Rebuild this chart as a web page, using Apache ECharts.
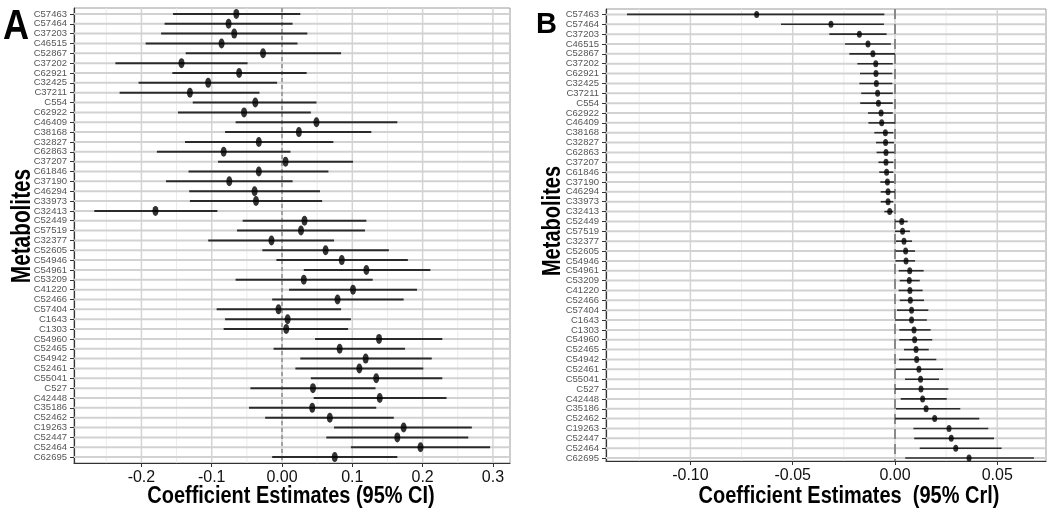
<!DOCTYPE html>
<html><head><meta charset="utf-8">
<script src="https://cdn.jsdelivr.net/npm/echarts@6/dist/echarts.min.js"></script>
<style>html,body{margin:0;padding:0;background:#fff}#c{width:1050px;height:514px}</style>
</head><body><div id="c"></div>
<script>
const metabolites = ['C57463','C57464','C37203','C46515','C52867','C37202','C62921','C32425','C37211','C554','C62922','C46409','C38168','C32827','C62863','C37207','C61846','C37190','C46294','C33973','C32413','C52449','C57519','C32377','C52605','C54946','C54961','C53209','C41220','C52466','C57404','C1643','C1303','C54960','C52465','C54942','C52461','C55041','C527','C42448','C35186','C52462','C19263','C52447','C52464','C62695'];

// Panel A: coefficient estimates with 95% CI
const estA  = [-0.065,-0.076,-0.068,-0.086,-0.027,-0.143,-0.061,-0.105,-0.131,-0.038,-0.054,0.049,0.024,-0.033,-0.083,0.005,-0.033,-0.075,-0.039,-0.037,-0.180,0.032,0.027,-0.015,0.062,0.085,0.120,0.031,0.101,0.079,-0.005,0.008,0.006,0.138,0.082,0.119,0.110,0.134,0.044,0.139,0.043,0.068,0.173,0.164,0.197,0.075];
const lowA  = [-0.155,-0.167,-0.172,-0.194,-0.137,-0.237,-0.156,-0.204,-0.231,-0.127,-0.148,-0.066,-0.081,-0.138,-0.178,-0.091,-0.133,-0.165,-0.132,-0.131,-0.267,-0.056,-0.064,-0.105,-0.028,-0.008,0.031,-0.066,0.010,-0.014,-0.093,-0.081,-0.083,0.047,-0.012,0.026,0.019,0.041,-0.045,0.045,-0.047,-0.024,0.074,0.063,0.098,-0.014];
const highA = [0.026,0.015,0.036,0.022,0.084,-0.049,0.035,-0.007,-0.032,0.049,0.041,0.164,0.127,0.073,0.012,0.101,0.066,0.015,0.054,0.057,-0.092,0.120,0.118,0.074,0.152,0.179,0.211,0.129,0.192,0.173,0.084,0.098,0.094,0.228,0.175,0.213,0.201,0.228,0.133,0.234,0.134,0.159,0.270,0.265,0.296,0.164];

// Panel B: coefficient estimates with 95% CrI
const estB  = [-0.0676,-0.0313,-0.0174,-0.0132,-0.0108,-0.0094,-0.0093,-0.0091,-0.0085,-0.0081,-0.0068,-0.0065,-0.0047,-0.0046,-0.0044,-0.0044,-0.0041,-0.0037,-0.0034,-0.0034,-0.0026,0.0033,0.0037,0.0044,0.0052,0.0054,0.0072,0.0070,0.0073,0.0075,0.0081,0.0081,0.0093,0.0096,0.0103,0.0106,0.0117,0.0125,0.0127,0.0135,0.0152,0.0194,0.0264,0.0275,0.0297,0.0362];
const lowB  = [-0.131,-0.0557,-0.0321,-0.0244,-0.0223,-0.0184,-0.0171,-0.0174,-0.0165,-0.0170,-0.0132,-0.0130,-0.0101,-0.0093,-0.0090,-0.0081,-0.0077,-0.0072,-0.0070,-0.0070,-0.0052,0.0000,0.0000,0.0005,0.0002,0.0002,0.0018,0.0023,0.0018,0.0023,0.0010,0.0000,0.0021,0.0021,0.0044,0.0020,0.0003,0.0049,0.0000,0.0028,0.0005,0.0000,0.0090,0.0094,0.0121,0.0050];
const highB = [-0.0052,-0.0054,-0.0041,-0.0020,0.0000,-0.0011,-0.0013,-0.0013,-0.0011,-0.0011,-0.0011,0.0000,-0.0008,-0.0005,-0.0003,-0.0008,-0.0008,-0.0005,0.0000,-0.0008,-0.0008,0.0062,0.0073,0.0083,0.0098,0.0098,0.0140,0.0121,0.0135,0.0142,0.0163,0.0156,0.0174,0.0182,0.0165,0.0202,0.0235,0.0215,0.0261,0.0253,0.0319,0.0412,0.0456,0.0484,0.0521,0.0679];

const ticksA = [-0.2,-0.1,0,0.1,0.2,0.3];
const tickLabelsA = ['-0.2','-0.1','0.00','0.1','0.2','0.3'];
const minorA = [-0.25,-0.15,-0.05,0.05,0.15,0.25];
const ticksB = [-0.1,-0.05,0,0.05];
const tickLabelsB = ['-0.10','-0.05','0.00','0.05'];
const minorB = [-0.125,-0.075,-0.025,0.025];

const titleA = 'Coefficient Estimates (95% CI)';
const titleB = 'Coefficient Estimates  (95% Crl)';
const titleY = 'Metabolites';

const FONT = "'Liberation Sans',Arial,sans-serif";
const idx = metabolites.map((m,i)=>i);

function vLineRender(color, width, dash){
  return function(params, api){
    const cs = params.coordSys;
    const x = api.coord([api.value(0), 0])[0];
    return {type:'line', shape:{x1:x,y1:cs.y,x2:x,y2:cs.y+cs.height},
      style:{stroke:color,lineWidth:width,lineDash:dash||null}};
  };
}
function hLineRender(color, width){
  return function(params, api){
    const cs = params.coordSys;
    const y = api.coord([0, api.value(0)])[1];
    return {type:'line', shape:{x1:cs.x,y1:y,x2:cs.x+cs.width,y2:y},
      style:{stroke:color,lineWidth:width}};
  };
}
function errRender(width){
  return function(params, api){
    const a = api.coord([api.value(0), api.value(2)]);
    const b = api.coord([api.value(1), api.value(2)]);
    return {type:'line', shape:{x1:a[0],y1:a[1],x2:b[0],y2:b[1]},
      style:{stroke:'#2b2b2b',lineWidth:width}};
  };
}

function xAxisCfg(gi, min, max, ticks, labels){
  return {
    type:'value', gridIndex:gi, min:min, max:max,
    axisLine:{show:true, onZero:false, lineStyle:{color:'#333',width:1.2}},
    axisTick:{show:true, length:4, customValues:ticks, lineStyle:{color:'#333',width:1}},
    axisLabel:{customValues:ticks, margin:7, fontSize:16, color:'#111', fontFamily:FONT,
      showMinLabel:true, showMaxLabel:true,
      formatter:function(v){ const k = ticks.findIndex(t=>Math.abs(t-v)<1e-9); return k>=0?labels[k]:''; }},
    splitLine:{show:false}
  };
}
function yAxisCfg(gi, min, max){
  return {
    type:'value', gridIndex:gi, inverse:true, min:min, max:max,
    axisLine:{show:true, onZero:false, lineStyle:{color:'#333',width:1.2}},
    axisTick:{show:true, length:4, customValues:idx, lineStyle:{color:'#333',width:1}},
    axisLabel:{customValues:idx, margin:7, fontSize:9.5, color:'#555', fontFamily:FONT,
      showMinLabel:true, showMaxLabel:true,
      formatter:function(v){ const r = Math.round(v); return Math.abs(v-r)<1e-6 && metabolites[r] ? metabolites[r] : ''; }},
    splitLine:{show:false}
  };
}

function panelSeries(k, est, low, high, minor, ticks, opts){
  return [
    {type:'custom', xAxisIndex:k, yAxisIndex:k, z:1, silent:true, renderItem:vLineRender('#ececec',1),
      data:minor.map(v=>[v]), encode:{x:0}},
    {type:'custom', xAxisIndex:k, yAxisIndex:k, z:1, silent:true, renderItem:vLineRender('#d4d4d4',1.5),
      data:ticks.map(v=>[v]), encode:{x:0}},
    {type:'custom', xAxisIndex:k, yAxisIndex:k, z:1, silent:true, renderItem:hLineRender('#d2d2d2',2),
      data:idx.map(i=>[i]), encode:{y:0}},
    {type:'custom', xAxisIndex:k, yAxisIndex:k, z:2, silent:true,
      renderItem:vLineRender(opts.zeroColor, opts.zeroWidth, opts.zeroDash),
      data:[[0]], encode:{x:0}},
    {type:'custom', xAxisIndex:k, yAxisIndex:k, z:3, silent:true, renderItem:errRender(opts.barWidth),
      data:idx.map(i=>[low[i], high[i], i]), encode:{x:[0,1], y:2}},
    {type:'scatter', xAxisIndex:k, yAxisIndex:k, z:4, silent:true, symbol:'circle', symbolSize:opts.dot,
      itemStyle:{color:'#000'}, data:idx.map(i=>[est[i], i])}
  ];
}

function boldText(text, x, y, size, sx, rot, align, vAlign){
  return {type:'text', x:x, y:y, scaleX:sx, scaleY:1, rotation:rot||0, z:10,
    style:{text:text, fontSize:size, fontWeight:'bold', fontFamily:FONT, fill:'#000',
      align:align||'center', verticalAlign:vAlign||'middle'}};
}

const chart = echarts.init(document.getElementById('c'), null, {renderer:'canvas'});
chart.setOption({
  animation:false,
  backgroundColor:'#fff',
  grid:[
    {left:74, right:540, top:8, bottom:51, show:true, borderColor:'#9a9a9a', borderWidth:1, backgroundColor:'#fff'},
    {left:606, right:4, top:9, bottom:53, show:true, borderColor:'#9a9a9a', borderWidth:1, backgroundColor:'#fff'}
  ],
  xAxis:[
    xAxisCfg(0, -0.2959, 0.3243, ticksA, tickLabelsA),
    xAxisCfg(1, -0.14125, 0.07381, ticksB, tickLabelsB)
  ],
  yAxis:[
    yAxisCfg(0, -0.6, 45.6),
    yAxisCfg(1, -0.55, 45.3)
  ],
  graphic:[
    boldText('A', 3, 6, 43, 0.84, 0, 'left', 'top'),
    boldText('B', 536, 10, 29, 1, 0, 'left', 'top'),
    boldText(titleA, 291, 497, 23.5, 0.85),
    boldText(titleB, 849, 497, 23.5, 0.85),
    boldText(titleY, 23, 226, 27, 0.77, Math.PI/2),
    boldText(titleY, 552.5, 221, 26, 0.77, Math.PI/2)
  ],
  series:[].concat(
    panelSeries(0, estA, lowA, highA, minorA, ticksA, {zeroColor:'#666', zeroWidth:1, zeroDash:[4,3], barWidth:2, dot:[6,10]}),
    panelSeries(1, estB, lowB, highB, minorB, ticksB, {zeroColor:'#8a8a8a', zeroWidth:2, zeroDash:[10,5], barWidth:1.6, dot:[5,7]})
  )
});
</script>
</body></html>
